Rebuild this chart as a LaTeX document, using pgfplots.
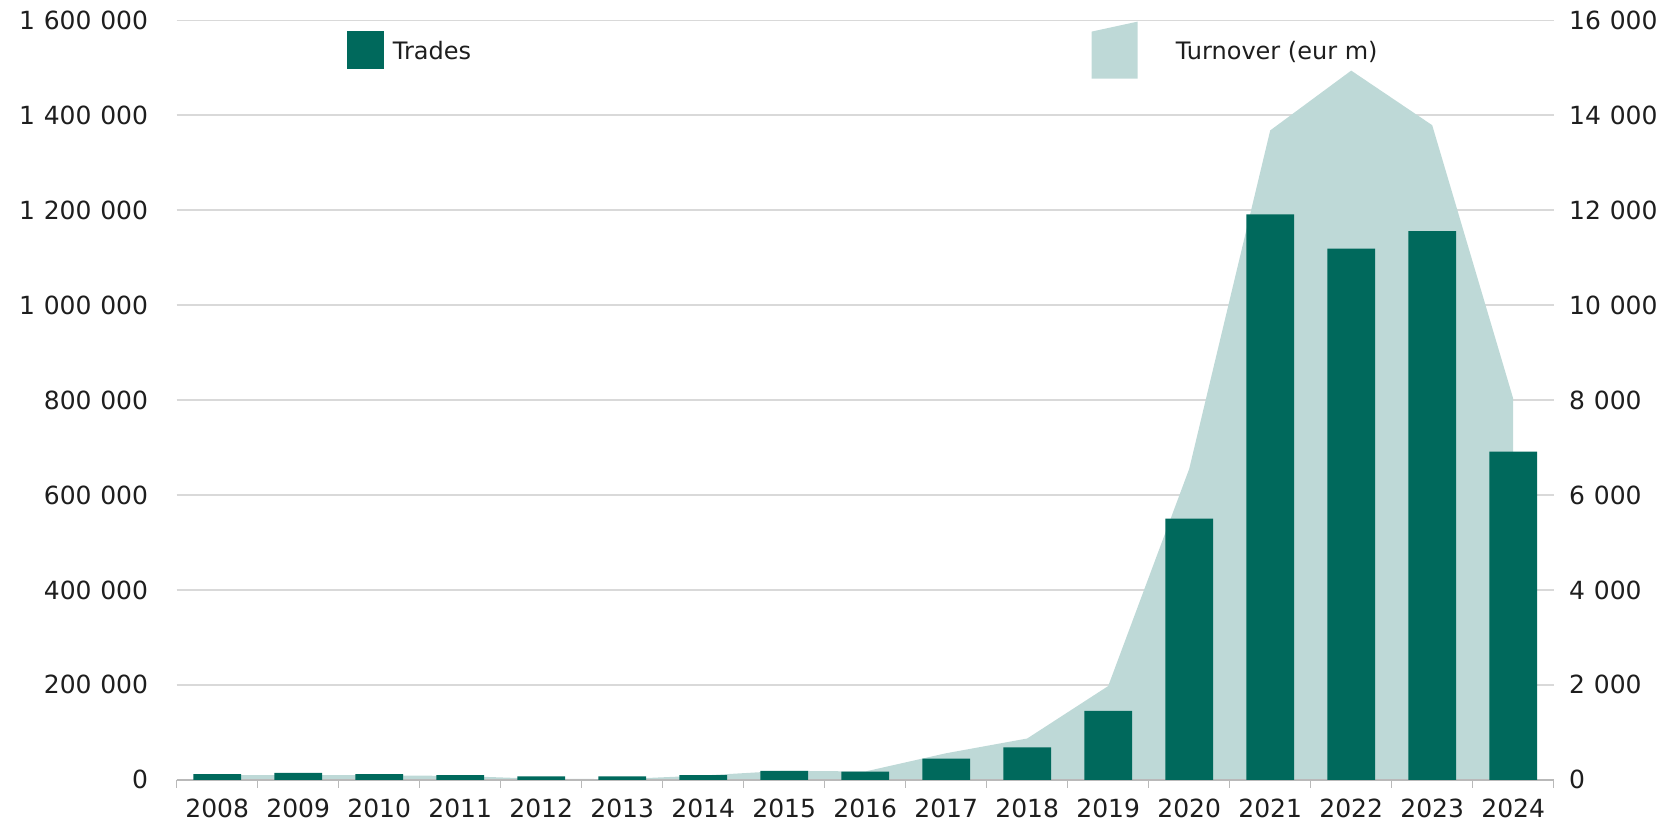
\documentclass[border=0pt]{standalone}
\usepackage{pgfplots}
\pgfplotsset{compat=1.18}
\usepackage{fontspec}
\setmainfont{DejaVu Sans}

\definecolor{barcol}{RGB}{0,105,92}
\definecolor{areacol}{RGB}{190,217,215}
\definecolor{gridcol}{RGB}{217,217,217}
\definecolor{txtcol}{RGB}{30,30,30}
\definecolor{axcol}{RGB}{185,185,185}

\pgfplotsset{
  base/.style={
    scale only axis, width=1377pt, height=759.5pt,
    xmin=-0.5, xmax=16.5, ymin=0,
    font=\fontsize{24}{28}\selectfont,
    tick label style={font=\fontsize{25}{29}\selectfont, text=txtcol},
    /pgf/number format/.cd, fixed, precision=0, 1000 sep={\hspace{0.35em}}, assume math mode=true,
    /pgfplots/.cd,
    scaled y ticks=false,
    y axis line style={draw=none},
    ytick style={draw=none},
    major tick length=0pt,
    tick align=outside,
  }
}

\begin{document}
\begin{tikzpicture}
% turnover (right axis), drawn first so the grid sits behind everything
\begin{axis}[base,
    hide x axis,
    axis y line*=right,
    ymax=16000, ytick={0,2000,...,16000},
    yticklabel style={xshift=12pt},
    ymajorgrids, grid style={gridcol, line width=1.5pt},
  ]
  \addplot[fill=areacol, draw=none] coordinates {
    (0,100) (1,100) (2,95) (3,80) (4,20) (5,15) (6,90) (7,190) (8,175)
    (9,560) (10,870) (11,1975) (12,6550) (13,13680) (14,14940) (15,13790) (16,8030)
  } \closedcycle;
\end{axis}
% trades (left axis)
\begin{axis}[base,
    axis x line*=bottom,
    x axis line style={axcol, line width=1.5pt},
    axis y line*=left,
    ymax=1600000, ytick={0,200000,...,1600000},
    yticklabel style={xshift=-25.1pt},
    xtick={0,...,16},
    xticklabels={2008,2009,2010,2011,2012,2013,2014,2015,2016,2017,2018,2019,2020,2021,2022,2023,2024},
    xticklabel style={yshift=-15.2pt},
    minor xtick={-0.5,0.5,...,16.5},
    minor tick length=8pt,
    minor x tick style={axcol, line width=1.5pt},
    ybar, bar width=0.59,
  ]
  \addplot[fill=barcol, draw=none] coordinates {
    (0,12000) (1,14800) (2,12000) (3,9900) (4,7000) (5,7000) (6,9900) (7,19000) (8,17000)
    (9,44500) (10,68500) (11,145000) (12,550000) (13,1191000) (14,1119000) (15,1156000) (16,691500)
  };
  \coordinate (tl) at (rel axis cs:0,1);
  % legend
  \fill[barcol] ([shift={(170pt,-10.3pt)}]rel axis cs:0,1) rectangle ([shift={(207pt,-48.3pt)}]rel axis cs:0,1);
  \node[anchor=base west, inner sep=0pt, text=txtcol] at ([shift={(216pt,-39pt)}]rel axis cs:0,1) {Trades};
  \fill[areacol] ([shift={(915pt,-11.3pt)}]rel axis cs:0,1) -- ([shift={(961pt,-1.3pt)}]rel axis cs:0,1)
     -- ([shift={(961pt,-58.3pt)}]rel axis cs:0,1) -- ([shift={(915pt,-58.3pt)}]rel axis cs:0,1) -- cycle;
  \node[anchor=base west, inner sep=0pt, text=txtcol] at ([shift={(999pt,-39pt)}]rel axis cs:0,1) {Turnover (eur m)};
\end{axis}
\pgfresetboundingbox
\path ([shift={(-176.7pt,20.3pt)}]tl) rectangle ([shift={(1502.3pt,-805.7pt)}]tl);
\end{tikzpicture}
\end{document}
